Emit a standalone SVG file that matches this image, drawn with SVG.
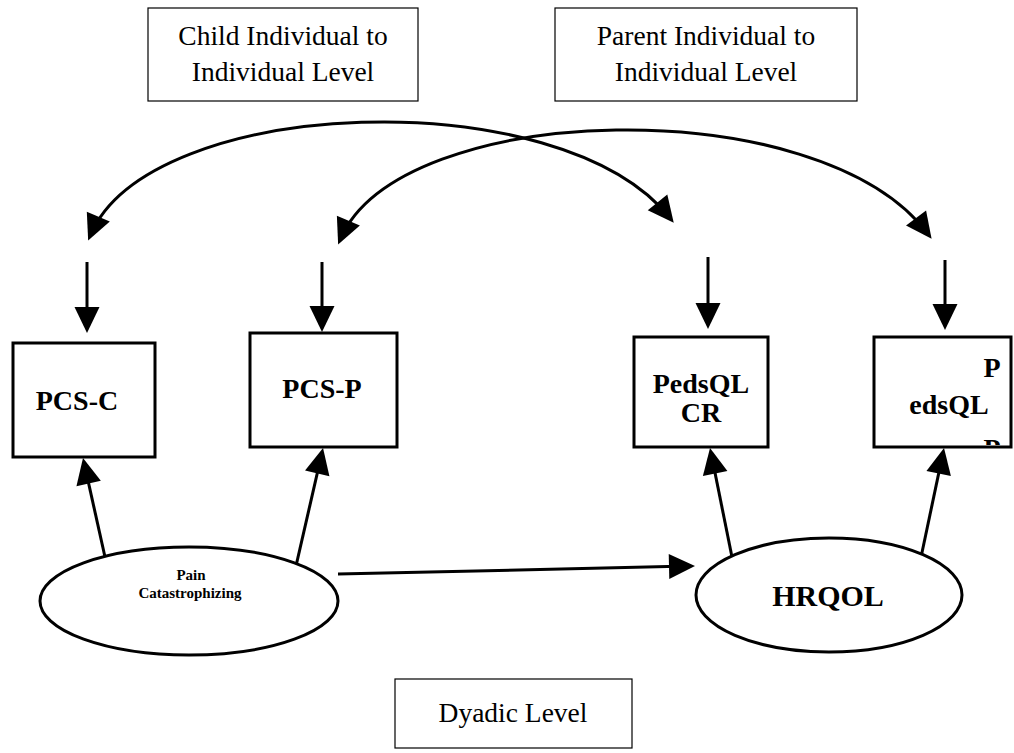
<svg xmlns="http://www.w3.org/2000/svg" width="1014" height="753" viewBox="0 0 1014 753">
  <style>
    .label-box { fill: #fff; stroke: #000; stroke-width: 1.2; }
    .measure { fill: #fff; stroke: #000; stroke-width: 3; }
    .latent { fill: #fff; stroke: #000; stroke-width: 3; }
    .label { font-family: "Liberation Serif", "Times New Roman", serif; font-size: 27.5px; fill: #000; text-anchor: middle; }
    .bold { font-family: "Liberation Serif", "Times New Roman", serif; font-weight: bold; fill: #000; text-anchor: middle; }
    .conn { fill: none; stroke: #000; stroke-width: 3; }
  </style>
  <defs>
    <marker id="head" markerUnits="userSpaceOnUse" markerWidth="26" markerHeight="25" refX="20" refY="12.5" orient="auto-start-reverse" overflow="visible">
      <path d="M0,0 L26,12.5 L0,25 Z" fill="#000"/>
    </marker>
    <clipPath id="clip-pedsql-p">
      <rect x="876" y="339" width="133" height="106"/>
    </clipPath>
  </defs>
  <rect width="1014" height="753" fill="#fff"/>

  <!-- level labels -->
  <g id="child-level">
    <rect class="label-box" x="148" y="8" width="270" height="93"/>
    <text class="label" x="283" y="45">Child Individual to</text>
    <text class="label" x="283" y="81">Individual Level</text>
  </g>
  <g id="parent-level">
    <rect class="label-box" x="555" y="8" width="302" height="93"/>
    <text class="label" x="706" y="45">Parent Individual to</text>
    <text class="label" x="706" y="81">Individual Level</text>
  </g>
  <g id="dyadic-level">
    <rect class="label-box" x="395" y="679" width="237" height="69"/>
    <text class="label" x="513" y="722">Dyadic Level</text>
  </g>

  <!-- connectors -->
  <g id="connectors">
    <!-- residual covariances between the individual-level indicators -->
    <path class="conn" d="M90.5,235 C150,95 560,80 670,218" marker-start="url(#head)" marker-end="url(#head)"/>
    <path class="conn" d="M340.5,239 C400,100 820,89 928,234" marker-start="url(#head)" marker-end="url(#head)"/>
    <!-- residual arrows -->
    <line class="conn" x1="87" y1="262" x2="87" y2="327" marker-end="url(#head)"/>
    <line class="conn" x1="322" y1="262" x2="322" y2="326" marker-end="url(#head)"/>
    <line class="conn" x1="708" y1="257" x2="708" y2="323" marker-end="url(#head)"/>
    <line class="conn" x1="945" y1="260" x2="945" y2="324" marker-end="url(#head)"/>
    <!-- loadings -->
    <line class="conn" x1="107" y1="566" x2="84.3" y2="463.9" marker-end="url(#head)"/>
    <line class="conn" x1="296" y1="566" x2="321.7" y2="453.9" marker-end="url(#head)"/>
    <line class="conn" x1="733" y1="562" x2="711.2" y2="453.9" marker-end="url(#head)"/>
    <line class="conn" x1="920" y1="562" x2="942.8" y2="453.9" marker-end="url(#head)"/>
    <!-- structural path -->
    <line class="conn" x1="338" y1="574" x2="689" y2="566.1" marker-end="url(#head)"/>
  </g>

  <!-- observed measures -->
  <g id="pcs-c">
    <rect class="measure" x="13" y="343" width="142" height="114"/>
    <text class="bold" x="77" y="410" font-size="28">PCS-C</text>
  </g>
  <g id="pcs-p">
    <rect class="measure" x="250" y="333" width="147" height="114"/>
    <text class="bold" x="322" y="398" font-size="28">PCS-P</text>
  </g>
  <g id="pedsql-cr">
    <rect class="measure" x="634" y="337" width="134" height="110"/>
    <text class="bold" x="701" y="393" font-size="28">PedsQL</text>
    <text class="bold" x="701" y="422" font-size="28">CR</text>
  </g>
  <g id="pedsql-p">
    <rect class="measure" x="874" y="337" width="137" height="110"/>
    <g clip-path="url(#clip-pedsql-p)">
      <text class="bold" x="992" y="377" font-size="28">P</text>
      <text class="bold" x="949" y="414" font-size="28">edsQL</text>
      <text class="bold" x="992" y="458" font-size="28">P</text>
    </g>
  </g>

  <!-- latent constructs -->
  <g id="pain-catastrophizing">
    <ellipse class="latent" cx="189" cy="601" rx="149" ry="54"/>
    <text class="bold" x="191" y="580" font-size="15">Pain</text>
    <text class="bold" x="190" y="598" font-size="15">Catastrophizing</text>
  </g>
  <g id="hrqol">
    <ellipse class="latent" cx="829" cy="595" rx="133" ry="57"/>
    <text class="bold" x="828" y="606" font-size="30">HRQOL</text>
  </g>
</svg>
